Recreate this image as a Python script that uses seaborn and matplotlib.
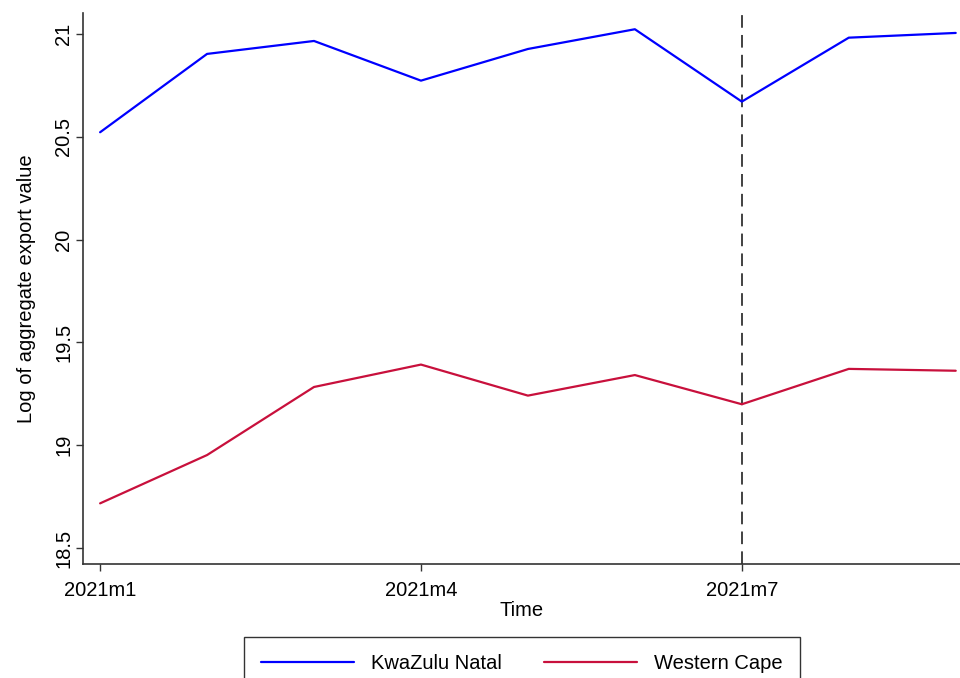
import matplotlib
matplotlib.use("Agg")
import matplotlib.pyplot as plt
import seaborn as sns
import pandas as pd

# Monthly log of aggregate export value, 2021m1 .. 2021m9
months = [1, 2, 3, 4, 5, 6, 7, 8, 9]
kzn = [20.522, 20.903, 20.966, 20.773, 20.927, 21.023, 20.671, 20.982, 21.005]
wcape = [18.717, 18.952, 19.283, 19.392, 19.241, 19.341, 19.199, 19.371, 19.362]
regions = ["KwaZulu Natal", "Western Cape"]
colors = ["#0000FF", "#C8103C"]
xtick_pos = [1, 4, 7]
xtick_labels = ["2021m1", "2021m4", "2021m7"]
ytick_pos = [18.5, 19, 19.5, 20, 20.5, 21]
ytick_labels = ["18.5", "19", "19.5", "20", "20.5", "21"]
event_month = 7

df = pd.DataFrame({
    "month": months * 2,
    "value": kzn + wcape,
    "region": [regions[0]] * len(months) + [regions[1]] * len(months),
})

sns.set_theme(style="white")
plt.rcParams["font.family"] = ["Liberation Sans", "DejaVu Sans"]
plt.rcParams["text.color"] = "black"
plt.rcParams["axes.labelcolor"] = "black"
plt.rcParams["xtick.color"] = "black"
plt.rcParams["ytick.color"] = "black"

fs = 14.5

fig = plt.figure(figsize=(9.6, 6.78), dpi=100)
ax = fig.add_axes([83 / 960, 1 - 564 / 678, 1 - 83 / 960, 551 / 678])

sns.lineplot(data=df, x="month", y="value", hue="region",
             palette=dict(zip(regions, colors)), linewidth=1.6, ax=ax,
             legend=False)

ax.axvline(event_month, color="#333333", linewidth=1.3,
           linestyle=(0, (7, 4)), zorder=1)

ax.set_xlim(0.84, 9.04)
ax.set_ylim(18.422, 21.102)
ax.set_xticks(xtick_pos)
ax.set_xticklabels(xtick_labels, fontsize=fs)
ax.set_yticks(ytick_pos)
ax.set_yticklabels(ytick_labels, fontsize=fs, rotation=90, va="center")
ax.tick_params(axis="both", direction="out", length=5, width=1,
               color="#333333", labelcolor="black")
ax.tick_params(axis="x", pad=7)
ax.tick_params(axis="y", pad=2)
ax.tick_params(left=True, bottom=True)

for side in ["top", "right"]:
    ax.spines[side].set_visible(False)
for side in ["left", "bottom"]:
    ax.spines[side].set_color("#333333")
    ax.spines[side].set_linewidth(1.2)

ax.set_xlabel("Time", fontsize=fs, labelpad=1)
ax.set_ylabel("Log of aggregate export value", fontsize=fs, labelpad=13)

handles = [plt.Line2D([], [], color=c, linewidth=1.6) for c in colors]
leg = fig.legend(handles, regions, loc="upper center", ncol=2,
                 bbox_to_anchor=(522 / 960, 1 - 637 / 678),
                 fontsize=fs, frameon=True, fancybox=False,
                 handlelength=4.6, handletextpad=0.85, columnspacing=2.1,
                 borderpad=0.85, borderaxespad=0)
leg.get_frame().set_edgecolor("black")
leg.get_frame().set_linewidth(1.0)

fig.savefig("out.png", dpi=100)
